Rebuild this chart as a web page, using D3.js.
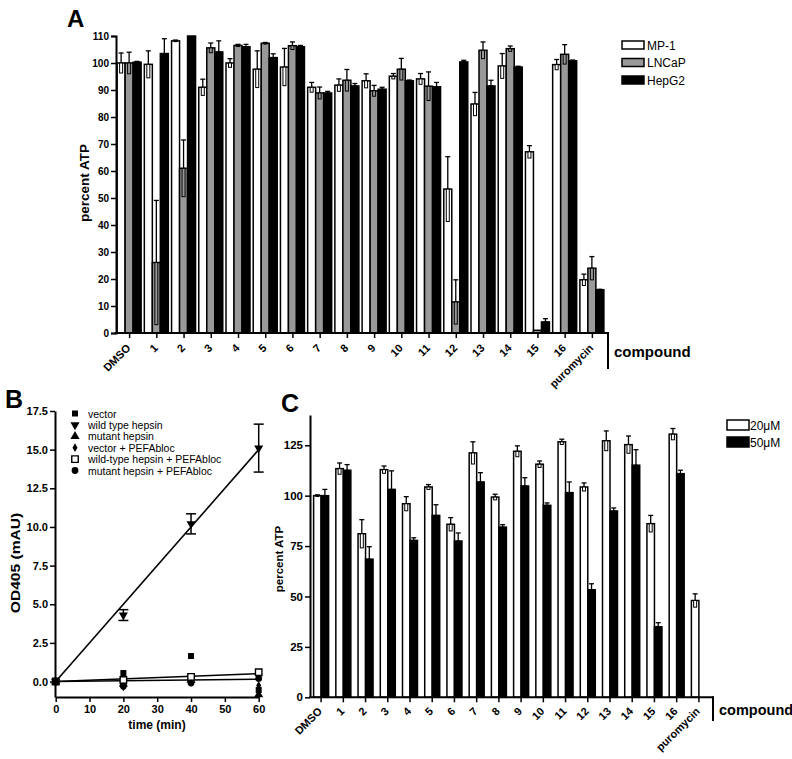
<!DOCTYPE html>
<html><head><meta charset="utf-8">
<script src="https://cdn.jsdelivr.net/npm/d3@7"></script>
<style>body{margin:0;background:#fff}svg{display:block}text{font-family:"Liberation Sans",Arial,sans-serif}</style>
</head><body>
<svg id="c" width="792" height="759"></svg>
<script>
// ---------- Panel A data ----------
const catsA = ["DMSO","1","2","3","4","5","6","7","8","9","10","11","12","13","14","15","16","puromycin"];
const seriesA = ["MP-1","LNCaP","HepG2"];
const mp1   = [100, 99.5, 108.2, 91.0, 100, 97.7, 98.5, 91.0, 91.8, 93.4, 95.1, 94.1, 53.3, 84.8, 98.9, 67.1, 99.4, 19.7];
const mp1Err= [3.7, 5.0, 0.3, 3.0, 1.6, 6.8, 6.9, 1.8, 2.3, 2.6, 1.0, 2.0, 12.0, 4.3, 4.6, 2.3, 1.9, 2.1];
const lncap = [100, 26.1, 61.0, 105.6, 106.5, 107.3, 106.4, 88.9, 93.6, 89.7, 97.7, 91.4, 11.5, 104.7, 105.3, 1.0, 103.2, 24.0];
const lncapErr=[4.0, 23.0, 10.5, 1.8, 0.4, 0.3, 1.4, 2.2, 4.0, 2.0, 4.0, 5.3, 8.2, 3.1, 1.0, 0, 3.6, 4.3];
const hepg2 = [100.3, 103.5, 110, 104.1, 106.0, 102.0, 106.0, 88.9, 91.5, 90.3, 93.4, 91.2, 100.4, 91.5, 98.5, 4.1, 100.8, 16.0];
const hepg2Err=[0.3, 5.5, 0, 4.1, 0.9, 1.4, 0.5, 0.6, 0.9, 0.7, 0.3, 1.6, 0.6, 2.1, 0.3, 1.2, 0.3, 0.2];
const ticksA = [0,10,20,30,40,50,60,70,80,90,100,110];

// ---------- Panel B data ----------
const timesB = [0, 20, 40, 60];
const namesB = ["vector","wild type  hepsin","mutant  hepsin","vector + PEFAbloc","wild-type hepsin + PEFAbloc","mutant hepsin + PEFAbloc"];
const vectorB    = [0, 0.55, 1.65, -0.55];
const wildTypeB  = [0, 4.3, 10.2, 15.1];
const wildTypeErr= [0, 0.35, 0.65, 1.55];
const mutantB    = [0, -0.15, 0.1, -0.85];
const vecPefaB   = [0, -0.35, -0.05, -0.25];
const wtPefaB    = [0, 0.1, 0.3, 0.6];
const mutPefaB   = [0, -0.3, -0.1, 0.2];
const fitSlopesB = [0.25, 0.0085, 0.0025];
const ticksBy = [0, 2.5, 5, 7.5, 10, 12.5, 15, 17.5];
const ticksBx = [0, 10, 20, 30, 40, 50, 60];

// ---------- Panel C data ----------
const catsC = catsA;
const seriesC = ["20\u03bcM","50\u03bcM"];
const c20    = [100, 113.4, 81.1, 112.9, 96.0, 104.3, 85.8, 121.2, 99.3, 122.0, 115.6, 126.7, 104.3, 127.2, 125.3, 86.1, 130.5, 48.0];
const c20Err = [0.4, 2.8, 7.0, 1.8, 3.5, 1.2, 3.3, 5.5, 1.4, 2.7, 1.6, 1.3, 2.0, 4.9, 4.3, 4.1, 2.8, 3.3];
const c50    = [100, 112.6, 68.5, 103.1, 77.8, 90.2, 77.5, 106.8, 84.4, 104.8, 95.2, 101.5, 53.3, 92.4, 115.1, 35.0, 110.9, null];
const c50Err = [3.1, 2.8, 6.2, 9.2, 1.3, 5.3, 4.0, 4.6, 1.2, 4.1, 1.2, 5.3, 3.0, 1.5, 7.7, 2.0, 1.7, null];
const ticksC = [0, 25, 50, 75, 100, 125];

// ---------- drawing ----------
const svg = d3.select("#c");
const F = '"Liberation Sans",Arial,sans-serif';

function errBar(g, cx, ym, yTop, yLow, cap, fillCol) {
  if (yLow > ym + 0.5) {
    g.append("rect").attr("x", cx - 1.5).attr("y", ym).attr("width", 3).attr("height", yLow - ym)
      .attr("fill", fillCol).attr("stroke", "#000").attr("stroke-width", 1);
  }
  if (yTop < ym - 0.5) {
    g.append("line").attr("x1", cx).attr("x2", cx).attr("y1", ym).attr("y2", yTop)
      .attr("stroke", "#000").attr("stroke-width", 1.3);
    g.append("line").attr("x1", cx - cap/2).attr("x2", cx + cap/2).attr("y1", yTop).attr("y2", yTop)
      .attr("stroke", "#000").attr("stroke-width", 1.3);
  }
}

function rotLabels(sel, dx, dy, size) {
  sel.selectAll("text").attr("font-size", size).attr("font-weight", "bold").attr("font-family", F)
    .attr("text-anchor", "end").attr("x", 0).attr("y", 0).attr("dy", "0.35em")
    .attr("transform", `translate(${dx},${dy}) rotate(-45)`);
}

// ===== Panel A =====
(function(){
  const g = svg.append("g");
  const x = d3.scaleBand().domain(catsA).range([116, 606]);
  const y = d3.scaleLinear().domain([0, 110]).range([333, 36]);
  const bw = 8;
  const vals = [mp1, lncap, hepg2], errs = [mp1Err, lncapErr, hepg2Err];
  const fills = ["#fff", "#999", "#000"];
  catsA.forEach((c, i) => {
    const c0 = x(c) + x.bandwidth()/2 - 12.5;
    vals.forEach((arr, s) => {
      const v = arr[i]; if (v == null) return;
      g.append("rect").attr("x", c0 + s*bw).attr("y", y(v)).attr("width", bw).attr("height", y(0) - y(v))
        .attr("fill", fills[s]).attr("stroke", "#000").attr("stroke-width", 1.5);
    });
    vals.forEach((arr, s) => {
      const v = arr[i]; if (v == null) return;
      const e = errs[s][i];
      errBar(g, c0 + s*bw + bw/2, y(v), y(Math.min(v + e, 110.5)), y(Math.max(v - e, 0)), 5, fills[s]);
    });
  });
  const ya = g.append("g").attr("transform", "translate(116,0)")
    .call(d3.axisLeft(y).tickValues(ticksA).tickSize(5).tickPadding(2));
  ya.select(".domain").attr("stroke-width", 2);
  ya.selectAll(".tick line").attr("stroke-width", 1.5);
  ya.selectAll("text").attr("font-size", 10).attr("font-weight", "bold").attr("font-family", F);
  const xa = g.append("g").attr("transform", "translate(0,333)")
    .call(d3.axisBottom(x).tickSize(5).tickSizeOuter(0));
  xa.select(".domain").remove();
  xa.selectAll(".tick line").attr("stroke-width", 1.5);
  rotLabels(xa, -1, 13, 11);
  g.append("line").attr("x1", 115).attr("x2", 608).attr("y1", 333).attr("y2", 333).attr("stroke", "#000").attr("stroke-width", 2);
  g.append("line").attr("x1", 608).attr("x2", 608).attr("y1", 332).attr("y2", 369).attr("stroke", "#000").attr("stroke-width", 2);
  g.append("text").attr("x", 614).attr("y", 357).attr("font-size", 15).attr("font-weight", "bold").text("compound");
  g.append("text").attr("transform", "translate(89,183) rotate(-90)").attr("text-anchor", "middle")
    .attr("font-size", 13.5).attr("font-weight", "bold").text("percent ATP");
  g.append("text").attr("x", 67).attr("y", 27).attr("font-size", 24).attr("font-weight", "bold").text("A");
  seriesA.forEach((s, i) => {
    const ly = 41 + i*17.5;
    g.append("rect").attr("x", 622).attr("y", ly).attr("width", 22).attr("height", 8)
      .attr("fill", fills[i]).attr("stroke", "#000").attr("stroke-width", 1.5);
    g.append("text").attr("x", 647).attr("y", ly + 8.5).attr("font-size", 12).text(s);
  });
})();

// ===== Panel B =====
(function(){
  const g = svg.append("g");
  const x = d3.scaleLinear().domain([0, 60]).range([55.7, 258.7]);
  const y = d3.scaleLinear().domain([-1, 17.5]).range([697, 411]);
  fitSlopesB.forEach(s => {
    g.append("line").attr("x1", x(0)).attr("y1", y(0)).attr("x2", x(60)).attr("y2", y(60*s))
      .attr("stroke", "#000").attr("stroke-width", 1.6);
  });
  timesB.forEach((t, i) => {
    const e = wildTypeErr[i]; if (!e) return;
    const cx = x(t);
    g.append("line").attr("x1", cx).attr("x2", cx).attr("y1", y(wildTypeB[i] - e)).attr("y2", y(wildTypeB[i] + e)).attr("stroke", "#000").attr("stroke-width", 1.5);
    [wildTypeB[i] - e, wildTypeB[i] + e].forEach(v => g.append("line").attr("x1", cx - 5).attr("x2", cx + 5).attr("y1", y(v)).attr("y2", y(v)).attr("stroke", "#000").attr("stroke-width", 1.5));
  });
  const series = [vectorB, wildTypeB, mutantB, vecPefaB, wtPefaB, mutPefaB];
  const syms = [
    {t: d3.symbolSquare, s: 36, fill: "#000"},
    {t: d3.symbolTriangle, s: 36, fill: "#000", rot: 180},
    {t: d3.symbolTriangle, s: 36, fill: "#000"},
    {t: d3.symbolDiamond, s: 22, fill: "#000"},
    {t: d3.symbolSquare, s: 42, fill: "#fff", stroke: 1.4},
    {t: d3.symbolCircle, s: 36, fill: "#000"}
  ];
  function sym(px, py, k) {
    const sy = syms[k];
    g.append("path").attr("d", d3.symbol().type(sy.t).size(sy.s)())
      .attr("transform", `translate(${px},${py}) rotate(${sy.rot || 0})`)
      .attr("fill", sy.fill).attr("stroke", sy.stroke ? "#000" : "none").attr("stroke-width", sy.stroke || 0);
  }
  series.forEach((arr, k) => arr.forEach((v, i) => sym(x(timesB[i]), y(v), k)));
  const ya = g.append("g").attr("transform", "translate(55,0)")
    .call(d3.axisLeft(y).tickValues(ticksBy).tickFormat(d3.format(".1f")).tickSize(5).tickPadding(2).tickSizeOuter(0));
  ya.select(".domain").attr("stroke-width", 2);
  ya.selectAll(".tick line").attr("stroke-width", 1.5);
  ya.selectAll("text").attr("font-size", 11).attr("font-weight", "bold").attr("font-family", F);
  const xa = g.append("g").attr("transform", "translate(0,697)")
    .call(d3.axisBottom(x).tickValues(ticksBx).tickSize(5).tickPadding(3).tickSizeOuter(0));
  xa.select(".domain").attr("stroke-width", 2);
  xa.selectAll(".tick line").attr("stroke-width", 1.5);
  xa.selectAll("text").attr("font-size", 11).attr("font-weight", "bold").attr("font-family", F);
  g.append("text").attr("x", 157).attr("y", 729).attr("text-anchor", "middle").attr("font-size", 12).attr("font-weight", "bold").text("time (min)");
  g.append("text").attr("transform", "translate(20,563) rotate(-90) scale(1.3,1)").attr("text-anchor", "middle")
    .attr("font-size", 12).attr("font-weight", "bold").text("OD405 (mAU)");
  g.append("text").attr("x", 5).attr("y", 408).attr("font-size", 25).attr("font-weight", "bold").text("B");
  namesB.forEach((n, i) => {
    const ly = 413.5 + i*11.4;
    sym(75, ly, i);
    g.append("text").attr("x", 88).attr("y", ly + 4).attr("font-size", 10.5).text(n);
  });
})();

// ===== Panel C =====
(function(){
  const g = svg.append("g");
  const x = d3.scaleBand().domain(catsC).range([310, 710]);
  const y = d3.scaleLinear().domain([0, 140]).range([697.3, 415]);
  const bw = 7.5;
  const vals = [c20, c50], errs = [c20Err, c50Err], fills = ["#fff", "#000"];
  catsC.forEach((c, i) => {
    const c0 = x(c) + x.bandwidth()/2 - bw;
    vals.forEach((arr, s) => {
      const v = arr[i]; if (v == null) return;
      g.append("rect").attr("x", c0 + s*bw).attr("y", y(v)).attr("width", bw).attr("height", y(0) - y(v))
        .attr("fill", fills[s]).attr("stroke", "#000").attr("stroke-width", 1.5);
    });
    vals.forEach((arr, s) => {
      const v = arr[i]; if (v == null) return;
      const e = errs[s][i];
      errBar(g, c0 + s*bw + bw/2, y(v), y(v + e), y(v - e), 5, fills[s]);
    });
  });
  const ya = g.append("g").attr("transform", "translate(310,0)")
    .call(d3.axisLeft(y).tickValues(ticksC).tickSize(5).tickPadding(2).tickSizeOuter(0));
  ya.select(".domain").attr("stroke-width", 2);
  ya.selectAll(".tick line").attr("stroke-width", 1.5);
  ya.selectAll("text").attr("font-size", 11.5).attr("font-weight", "bold").attr("font-family", F);
  const xa = g.append("g").attr("transform", "translate(0,697.3)")
    .call(d3.axisBottom(x).tickSize(5).tickSizeOuter(0));
  xa.select(".domain").remove();
  xa.selectAll(".tick line").attr("stroke-width", 1.5);
  rotLabels(xa, -1, 12, 11);
  g.append("line").attr("x1", 309).attr("x2", 713).attr("y1", 697.3).attr("y2", 697.3).attr("stroke", "#000").attr("stroke-width", 2);
  g.append("line").attr("x1", 713).attr("x2", 713).attr("y1", 696.3).attr("y2", 721).attr("stroke", "#000").attr("stroke-width", 2);
  g.append("text").attr("x", 719).attr("y", 715).attr("font-size", 14.5).attr("font-weight", "bold").text("compound");
  g.append("text").attr("transform", "translate(283,559) rotate(-90)").attr("text-anchor", "middle")
    .attr("font-size", 11.5).attr("font-weight", "bold").text("percent ATP");
  g.append("text").attr("x", 281).attr("y", 412).attr("font-size", 25).attr("font-weight", "bold").text("C");
  seriesC.forEach((s, i) => {
    const ly = 420 + i*17;
    g.append("rect").attr("x", 727).attr("y", ly).attr("width", 22).attr("height", 10)
      .attr("fill", fills[i]).attr("stroke", "#000").attr("stroke-width", 1.5);
    g.append("text").attr("x", 750).attr("y", ly + 10).attr("font-size", 12).text(s);
  });
})();
</script>
</body></html>
